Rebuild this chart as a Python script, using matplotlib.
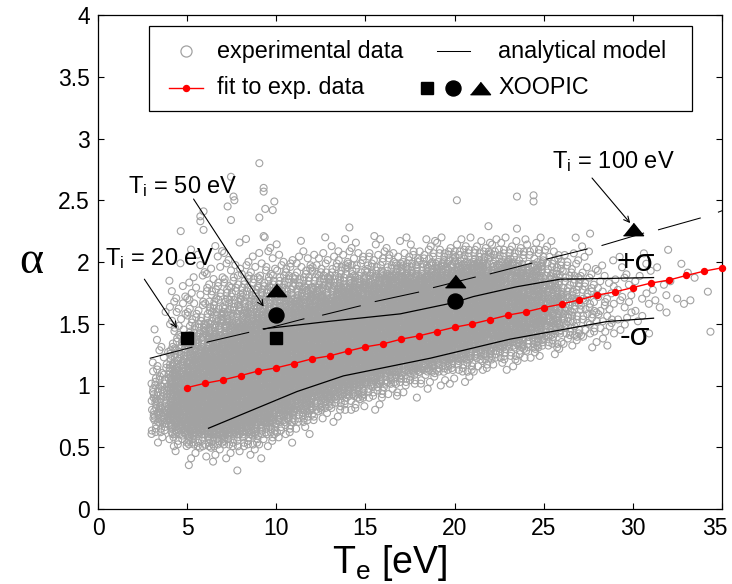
import matplotlib
matplotlib.use("Agg")
import matplotlib.pyplot as plt
from matplotlib.lines import Line2D
from matplotlib.patches import Rectangle
from matplotlib.transforms import ScaledTranslation

plt.rcParams['font.family'] = ['Liberation Sans', 'DejaVu Sans']
plt.rcParams['mathtext.fontset'] = 'custom'
plt.rcParams['mathtext.rm'] = 'Liberation Sans'
plt.rcParams['mathtext.it'] = 'Liberation Sans:italic'

# ---------------------------------------------------------------------------
# Experimental data: number of measurements in each (Te, alpha) cell.
# Key = lower edge of the Te bin [eV]; list index r -> alpha in
# [ALPHA_FIRST + r*ALPHA_BIN, ALPHA_FIRST + (r+1)*ALPHA_BIN)
# ---------------------------------------------------------------------------
TE_BIN = 1.0
ALPHA_BIN = 0.1
ALPHA_FIRST = 0.2
exp_counts = {
    3:  [0, 0, 0, 2, 12, 20, 18, 15, 12, 7, 3, 2, 1, 1, 0, 0, 0, 0, 0, 0],
    4:  [0, 0, 1, 9, 24, 34, 36, 36, 30, 24, 16, 10, 6, 4, 4, 3, 2, 1, 0, 0],
    5:  [0, 1, 3, 14, 30, 38, 40, 40, 40, 34, 28, 20, 13, 8, 6, 4, 3, 2, 1, 1],
    6:  [0, 1, 4, 16, 34, 40, 40, 40, 40, 40, 34, 27, 20, 14, 10, 8, 5, 3, 2, 1],
    7:  [0, 1, 3, 13, 30, 40, 40, 40, 40, 40, 38, 32, 25, 18, 14, 10, 7, 4, 2, 1],
    8:  [0, 0, 2, 11, 26, 36, 40, 40, 40, 40, 40, 38, 30, 24, 16, 12, 8, 4, 2, 1],
    9:  [0, 0, 1, 5, 18, 32, 40, 40, 40, 40, 40, 40, 36, 28, 18, 14, 10, 5, 3, 1],
    10: [0, 0, 0, 2, 9, 22, 36, 40, 40, 40, 40, 40, 38, 34, 24, 16, 12, 6, 3, 1],
    11: [0, 0, 0, 0, 3, 14, 28, 40, 40, 40, 40, 40, 40, 36, 28, 18, 12, 7, 3, 1],
    12: [0, 0, 0, 0, 0, 5, 18, 34, 40, 40, 40, 40, 40, 38, 34, 22, 14, 8, 4, 1],
    13: [0, 0, 0, 0, 0, 2, 11, 28, 40, 40, 40, 40, 40, 40, 36, 26, 16, 10, 5, 2],
    14: [0, 0, 0, 0, 0, 0, 6, 22, 36, 40, 40, 40, 40, 40, 38, 32, 20, 10, 5, 2],
    15: [0, 0, 0, 0, 0, 0, 2, 11, 28, 40, 40, 40, 40, 40, 40, 34, 22, 12, 6, 2],
    16: [0, 0, 0, 0, 0, 0, 0, 5, 18, 34, 40, 40, 40, 40, 40, 38, 30, 14, 6, 2],
    17: [0, 0, 0, 0, 0, 0, 0, 2, 11, 28, 40, 40, 40, 40, 40, 40, 32, 16, 7, 2],
    18: [0, 0, 0, 0, 0, 0, 0, 1, 6, 22, 36, 40, 40, 40, 40, 40, 34, 18, 8, 3],
    19: [0, 0, 0, 0, 0, 0, 0, 0, 4, 16, 32, 40, 40, 40, 40, 40, 36, 22, 10, 3],
    20: [0, 0, 0, 0, 0, 0, 0, 0, 2, 11, 26, 36, 40, 40, 40, 40, 38, 28, 12, 4],
    21: [0, 0, 0, 0, 0, 0, 0, 0, 0, 6, 18, 32, 40, 40, 40, 40, 38, 28, 12, 4],
    22: [0, 0, 0, 0, 0, 0, 0, 0, 0, 3, 13, 28, 36, 38, 38, 38, 34, 26, 12, 4],
    23: [0, 0, 0, 0, 0, 0, 0, 0, 0, 2, 8, 22, 32, 34, 34, 34, 30, 24, 10, 4],
    24: [0, 0, 0, 0, 0, 0, 0, 0, 0, 0, 5, 16, 26, 30, 30, 30, 26, 22, 8, 3],
    25: [0, 0, 0, 0, 0, 0, 0, 0, 0, 0, 2, 10, 18, 22, 22, 22, 18, 12, 6, 2],
    26: [0, 0, 0, 0, 0, 0, 0, 0, 0, 0, 0, 5, 10, 13, 13, 13, 10, 6, 3, 1],
    27: [0, 0, 0, 0, 0, 0, 0, 0, 0, 0, 0, 3, 6, 8, 8, 7, 6, 4, 2, 1],
    28: [0, 0, 0, 0, 0, 0, 0, 0, 0, 0, 0, 2, 4, 5, 5, 5, 4, 2, 1, 0],
    29: [0, 0, 0, 0, 0, 0, 0, 0, 0, 0, 0, 0, 2, 3, 3, 3, 3, 2, 1, 0],
    30: [0, 0, 0, 0, 0, 0, 0, 0, 0, 0, 0, 0, 1, 2, 2, 2, 2, 2, 1, 0],
    31: [0, 0, 0, 0, 0, 0, 0, 0, 0, 0, 0, 0, 0, 1, 2, 2, 1, 1, 1, 0],
    32: [0, 0, 0, 0, 0, 0, 0, 0, 0, 0, 0, 0, 0, 0, 1, 1, 1, 1, 0, 0],
    33: [0, 0, 0, 0, 0, 0, 0, 0, 0, 0, 0, 0, 0, 0, 1, 0, 1, 1, 0, 0],
    34: [0, 0, 0, 0, 0, 0, 0, 0, 0, 0, 0, 0, 1, 0, 0, 1, 0, 0, 0, 0],
}

# isolated high-alpha measurements
outlier_te = [4.64, 5.92, 5.74, 5.74, 5.92, 7.27, 7.60, 7.65, 7.46, 7.46,
              9.05, 9.29, 9.29, 9.89, 9.38, 9.80, 9.05, 9.29, 9.35, 14.1,
              15.5, 20.13, 23.5, 24.43, 24.43, 21.9, 23.5, 27.6]
outlier_alpha = [2.25, 2.26, 2.37, 2.33, 2.41, 2.45, 2.53, 2.50, 2.69, 2.34,
                 2.80, 2.60, 2.57, 2.49, 2.43, 2.42, 2.36, 2.21, 2.20, 2.28,
                 2.21, 2.50, 2.53, 2.54, 2.49, 2.29, 2.27, 2.23]

# linear fit to the experimental data
fit_te = list(range(5, 36))
fit_alpha = [0.983, 1.018, 1.045, 1.080, 1.118, 1.143, 1.178, 1.216, 1.240,
             1.278, 1.313, 1.337, 1.375, 1.402, 1.437, 1.472, 1.499, 1.534,
             1.570, 1.596, 1.631, 1.659, 1.694, 1.732, 1.758, 1.793, 1.829,
             1.853, 1.891, 1.926, 1.953]

# analytical model, evaluated piecewise: (Te_start, alpha_start, Te_end, alpha_end)
model_segments = [
    (2.93, 1.221, 5.27, 1.310),
    (6.11, 1.351, 8.45, 1.430),
    (9.30, 1.455, 11.55, 1.540),
    (12.60, 1.570, 14.71, 1.645),
    (15.55, 1.680, 17.98, 1.756),
    (18.82, 1.793, 21.16, 1.878),
    (22.00, 1.904, 24.34, 1.991),
    (25.18, 2.024, 27.43, 2.105),
    (28.27, 2.134, 30.60, 2.234),
    (31.44, 2.261, 33.78, 2.356),
    (34.80, 2.404, 35.00, 2.415),
]

# fit +/- one standard deviation
sigma_plus_te = [9.27, 10.79, 13.0, 16.95, 19.93, 21.05, 23.5, 25.93, 28.2, 31.16]
sigma_plus_alpha = [1.459, 1.483, 1.52, 1.58, 1.67, 1.72, 1.80, 1.861, 1.866, 1.874]
sigma_minus_te = [6.2, 11.16, 13.77, 18.64, 23.1, 28.55, 31.16]
sigma_minus_alpha = [0.654, 0.951, 1.078, 1.221, 1.375, 1.518, 1.545]

# XOOPIC simulations (square: Ti = 20 eV, circle: Ti = 50 eV, triangle: Ti = 100 eV)
xoopic_sq_te, xoopic_sq_alpha = [5, 10], [1.383, 1.388]
xoopic_ci_te, xoopic_ci_alpha = [10, 20], [1.572, 1.685]
xoopic_tr_te, xoopic_tr_alpha = [10, 20, 30], [1.777, 1.849, 2.265]

x_ticks = [0, 5, 10, 15, 20, 25, 30, 35]
y_ticks = [0, 0.5, 1, 1.5, 2, 2.5, 3, 3.5, 4]
y_tick_labels = ['0', '0.5', '1', '1.5', '2', '2.5', '3', '3.5', '4']

GRAY = '#a2a2a2'
TRI = [(-1.0, -0.62), (1.0, -0.62), (0.0, 0.62)]


def expand_cells(counts):
    """Spread the counted measurements of every cell evenly over the cell."""
    te, al = [], []
    k = 0
    for c, col in counts.items():
        for r, n in enumerate(col):
            s = (k * 0.6180339887) % 1.0
            t = (k * 0.4142135624) % 1.0
            for i in range(1, n + 1):
                u = (s + i * 0.7548776662) % 1.0
                v = (t + i * 0.5698402910) % 1.0
                te.append(c + u * TE_BIN)
                al.append(ALPHA_FIRST + (r + v) * ALPHA_BIN)
            k += 1
    return te, al


fig = plt.figure(figsize=(7.32, 5.84), dpi=100)
ax = fig.add_axes([98 / 732, 75 / 584, 624 / 732, 494 / 584])

exp_te, exp_alpha = expand_cells(exp_counts)
exp_te += outlier_te
exp_alpha += outlier_alpha
ax.scatter(exp_te, exp_alpha, s=25, facecolors='none', edgecolors=GRAY,
           linewidths=0.8, zorder=1)

for t0, a0, t1, a1 in model_segments:
    ax.plot([t0, t1], [a0, a1], color='k', lw=0.75, zorder=3)
ax.plot(sigma_plus_te, sigma_plus_alpha, color='k', lw=0.9, zorder=3)
ax.plot(sigma_minus_te, sigma_minus_alpha, color='k', lw=0.9, zorder=3)

ax.plot(fit_te, fit_alpha, color='#ff0000', lw=1.0, marker='o', ms=4.3,
        mec='#ff0000', mfc='#ff0000', zorder=4, clip_on=False)

ax.plot(xoopic_sq_te, xoopic_sq_alpha, ls='none', marker='s', ms=9.3,
        color='k', zorder=5)
ax.plot(xoopic_ci_te, xoopic_ci_alpha, ls='none', marker='o', ms=10.8,
        color='k', zorder=5)
ax.plot(xoopic_tr_te, xoopic_tr_alpha, ls='none', marker=TRI, ms=14.4,
        color='k', zorder=5)

ax.set_xlim(0, 35)
ax.set_ylim(0, 4)
ax.set_xticks(x_ticks)
ax.set_yticks(y_ticks)
ax.set_yticklabels(y_tick_labels)
ax.tick_params(direction='in', length=4, width=0.8, top=True, right=True,
               labelsize=16.5, pad=6)
for sp in ax.spines.values():
    sp.set_linewidth(0.9)
# the last Te label sits flush with the right edge of the figure
last = ax.get_xticklabels()[-1]
last.set_transform(last.get_transform() + ScaledTranslation(-5 / 72, 0, fig.dpi_scale_trans))

ax.set_xlabel(r'T$_{\mathrm{e}}$ [eV]', fontsize=27)
ax.xaxis.set_label_coords(0.468, -0.068)
ax.set_ylabel('α', fontsize=33, family='Liberation Serif', rotation=0,
              va='center', ha='center')
ax.yaxis.set_label_coords(-0.107, 0.5)

# annotations
arrow = dict(arrowstyle='->', color='k', lw=0.8, shrinkA=0, shrinkB=0)
ax.annotate('', xy=(9.29, 1.639), xytext=(5.36, 2.51), arrowprops=arrow)
ax.text(1.70, 2.561, r'T$_{\mathrm{i}}$ = 50 eV', fontsize=17, va='baseline')
ax.annotate('', xy=(4.43, 1.464), xytext=(2.60, 1.861), arrowprops=arrow)
ax.text(0.415, 1.977, r'T$_{\mathrm{i}}$ = 20 eV', fontsize=17, va='baseline')
ax.annotate('', xy=(29.85, 2.315), xytext=(27.71, 2.68), arrowprops=arrow)
ax.text(25.46, 2.761, r'T$_{\mathrm{i}}$ = 100 eV', fontsize=17, va='baseline')
ax.text(29.07, 1.931, '+σ', fontsize=23, va='baseline')
ax.text(29.28, 1.329, '-σ', fontsize=23, va='baseline')

# legend box
tr = ax.transAxes
ax.add_patch(Rectangle((0.0817, 0.8057), 0.8702, 0.172, transform=tr,
                       facecolor='white', edgecolor='k', lw=0.9, zorder=6))
leg_fs = 16.8
row1, row2 = 0.927, 0.852
ax.add_line(Line2D([0.1418], [row1], transform=tr, ls='none', marker='o',
                   ms=8, mfc='none', mec=GRAY, mew=0.9, zorder=7))
ax.add_line(Line2D([0.1138, 0.1683], [row2, row2], transform=tr,
                   color='#ff0000', lw=1.0, zorder=7))
ax.add_line(Line2D([0.1418], [row2], transform=tr, ls='none', marker='o',
                   ms=4.3, color='#ff0000', zorder=7))
ax.add_line(Line2D([0.5428, 0.5962], [row1, row1], transform=tr,
                   color='k', lw=0.75, zorder=7))
ax.add_line(Line2D([0.5272], [row2], transform=tr, ls='none', marker='s',
                   ms=9.3, color='k', zorder=7))
ax.add_line(Line2D([0.5689], [row2], transform=tr, ls='none', marker='o',
                   ms=10.8, color='k', zorder=7))
ax.add_line(Line2D([0.6122], [row2], transform=tr, ls='none', marker=TRI,
                   ms=14.4, color='k', zorder=7))
ax.text(0.1907, 0.9123, 'experimental data', transform=tr, fontsize=leg_fs,
        va='baseline', zorder=8)
ax.text(0.1907, 0.8401, 'fit to exp. data', transform=tr, fontsize=leg_fs,
        va='baseline', zorder=8)
ax.text(0.641, 0.9123, 'analytical model', transform=tr, fontsize=leg_fs,
        va='baseline', zorder=8)
ax.text(0.641, 0.8401, 'XOOPIC', transform=tr, fontsize=leg_fs,
        va='baseline', zorder=8)

fig.savefig('out.png', dpi=100)
